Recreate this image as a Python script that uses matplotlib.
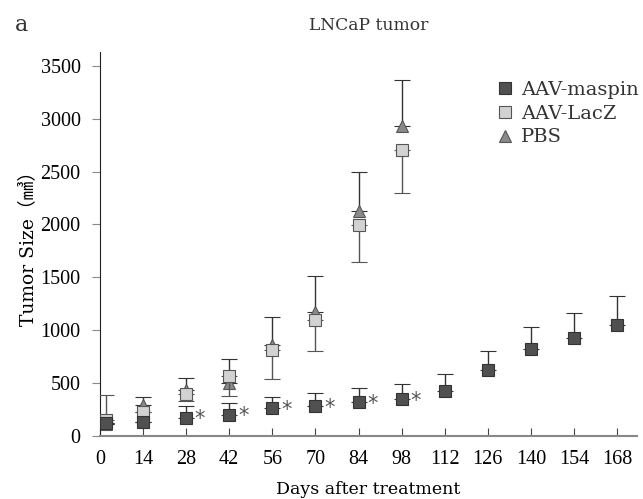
import numpy as np
import matplotlib.pyplot as plt

days = [2, 14, 28, 42, 56, 70, 84, 98, 112, 126, 140, 154, 168]
maspin = [120, 135, 170, 200, 260, 280, 320, 345, 425, 620, 825, 930, 1045]
maspin_up = [0, 0, 110, 115, 108, 126, 133, 142, 161, 183, 208, 234, 280]

days_ctrl = days[:8]
lacz = [150, 230, 400, 567, 813, 1093, 1997, 2703]
lacz_up = [240, 0, 0, 0, 0, 0, 0, 0]
lacz_down = [0, 0, 70, 186, 277, 293, 350, 404]
pbs = [110, 290, 430, 498, 860, 1175, 2129, 2930]
pbs_up = [0, 80, 115, 233, 262, 334, 369, 434]

star_days = [28, 42, 56, 70, 84, 98]
xticks = [0, 14, 28, 42, 56, 70, 84, 98, 112, 126, 140, 154, 168]
yticks = [0, 500, 1000, 1500, 2000, 2500, 3000, 3500]

serif = ['DejaVu Serif', 'Noto Sans CJK KR']
plt.rcParams['font.family'] = ['Liberation Serif', 'Noto Sans CJK KR']
plt.rcParams['text.color'] = '#333333'

fig = plt.figure(figsize=(6.43, 4.99), dpi=100)
ax = fig.add_axes([0.1555, 0.1263, 0.8352, 0.7695])

ax.errorbar(days_ctrl, pbs, yerr=[np.zeros(len(pbs)), pbs_up], fmt='^', ms=9,
            mfc='#8a8a8a', mec='#555555', mew=0.8, ecolor='#333333',
            elinewidth=1, capsize=6, capthick=1, zorder=2, label='PBS')
ax.errorbar(days_ctrl, lacz, yerr=[lacz_down, lacz_up], fmt='s', ms=9,
            mfc='#d2d2d2', mec='#555555', mew=0.8, ecolor='#555555',
            elinewidth=1, capsize=6, capthick=1, zorder=3, label='AAV-LacZ')
ax.errorbar(days, maspin, yerr=[np.zeros(len(maspin)), maspin_up], fmt='s', ms=9,
            mfc='#505050', mec='#333333', mew=0.8, ecolor='#333333',
            elinewidth=1, capsize=6, capthick=1, zorder=4, label='AAV-maspin')

for d in star_days:
    v = maspin[days.index(d)]
    ax.annotate('*', (d, v), xytext=(10, -1), textcoords='offset points',
                fontsize=15, family='DejaVu Sans', color='#555555',
                ha='center', va='center')

ax.set_xlim(0, 174.5)
ax.set_ylim(0, 3630)
ax.set_xticks(xticks)
ax.set_yticks(yticks)
ax.spines['top'].set_visible(False)
ax.spines['right'].set_visible(False)
ax.spines['left'].set_color('#222222')
ax.spines['bottom'].set_color('#888888')
ax.spines['bottom'].set_linewidth(1.5)
ax.tick_params(axis='x', direction='in', length=6, color='#444444', pad=10, labelsize=14.5)
ax.tick_params(axis='y', direction='out', length=6, color='#888888', pad=8, labelsize=14.5)

ax.set_xlabel('Days after treatment', fontsize=12.5, family=serif, labelpad=9)
ax.set_ylabel('Tumor Size（㎣）', fontsize=13.5, family=serif, labelpad=2)
ax.set_title('LNCaP tumor', fontsize=12.3, family=serif, pad=16)
fig.text(0.023, 0.95, 'a', fontsize=16, family=serif, va='center')

h, l = ax.get_legend_handles_labels()
order = [2, 1, 0]
hh = []
for i in order:
    line = h[i][0]
    hh.append(plt.Line2D([], [], ls='none', marker=line.get_marker(), ms=8,
                         mfc=line.get_mfc(), mec=line.get_mec(), mew=0.8))
ax.legend(hh, [l[i] for i in order], loc='upper left', bbox_to_anchor=(0.74, 0.925),
          frameon=False, prop={'family': serif, 'size': 14}, handlelength=0.8,
          handletextpad=0.4, labelspacing=0.3, borderaxespad=0, borderpad=0)

fig.savefig('out.png', dpi=100)
